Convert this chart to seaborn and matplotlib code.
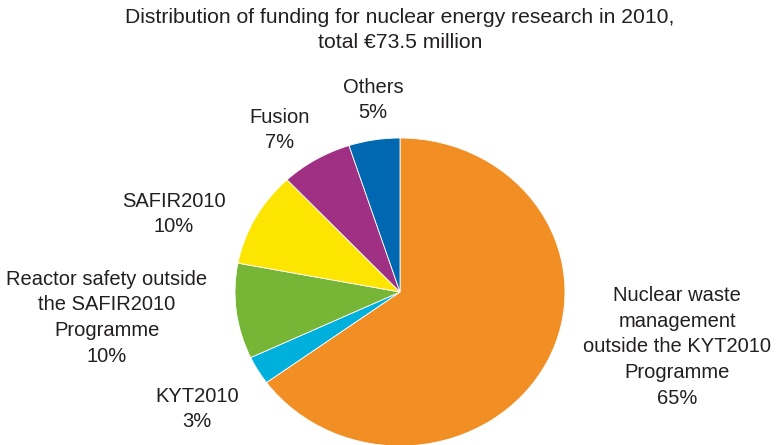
import matplotlib
matplotlib.use('Agg')
import matplotlib.pyplot as plt
import seaborn as sns

sns.set_theme(style='white')
plt.rcParams['font.family'] = ['Liberation Sans', 'DejaVu Sans']

# Funding shares 2010 (%), clockwise from top
categories = ['Nuclear waste management outside the KYT2010 Programme', 'KYT2010',
              'Reactor safety outside the SAFIR2010 Programme', 'SAFIR2010',
              'Fusion', 'Others']
shares = [65, 3, 10, 10, 7, 5]
colors = ['#F18F25', '#00B0DC', '#76B535', '#FCE500', '#A03084', '#0068B0']

W, H = 776, 445
fig = plt.figure(figsize=(W / 100, H / 100), dpi=100)

# pie is slightly wider than tall in the original
cx, cy, rx, ry = 400, 292, 165, 154
ax = fig.add_axes([(cx - rx) / W, (H - cy - ry) / H, 2 * rx / W, 2 * ry / H])
ax.pie(shares, colors=colors, startangle=90, counterclock=False,
       wedgeprops={'linewidth': 0.6, 'edgecolor': 'white'})
ax.set_aspect('auto')
ax.set_xlim(-1, 1)
ax.set_ylim(-1, 1)
ax.axis('off')

txt = '#231f20'
fs = 14.5


def label(x, y, s, size=fs):
    fig.text(x / W, 1 - y / H, s, ha='center', va='center', fontsize=size,
             color=txt, linespacing=1.45)


label(400, 30, 'Distribution of funding for nuclear energy research in 2010,\ntotal €73.5 million', size=15.2)
label(373, 100, 'Others\n5%')
label(280, 130, 'Fusion\n7%')
label(174, 214, 'SAFIR2010\n10%')
label(107, 305, 'Reactor safety outside\nthe SAFIR2010\nProgramme')
label(107, 357, '10%')
label(197, 409, 'KYT2010\n3%')
label(677, 347, 'Nuclear waste\nmanagement\noutside the KYT2010\nProgramme\n65%')

fig.savefig('out.png', dpi=100)
